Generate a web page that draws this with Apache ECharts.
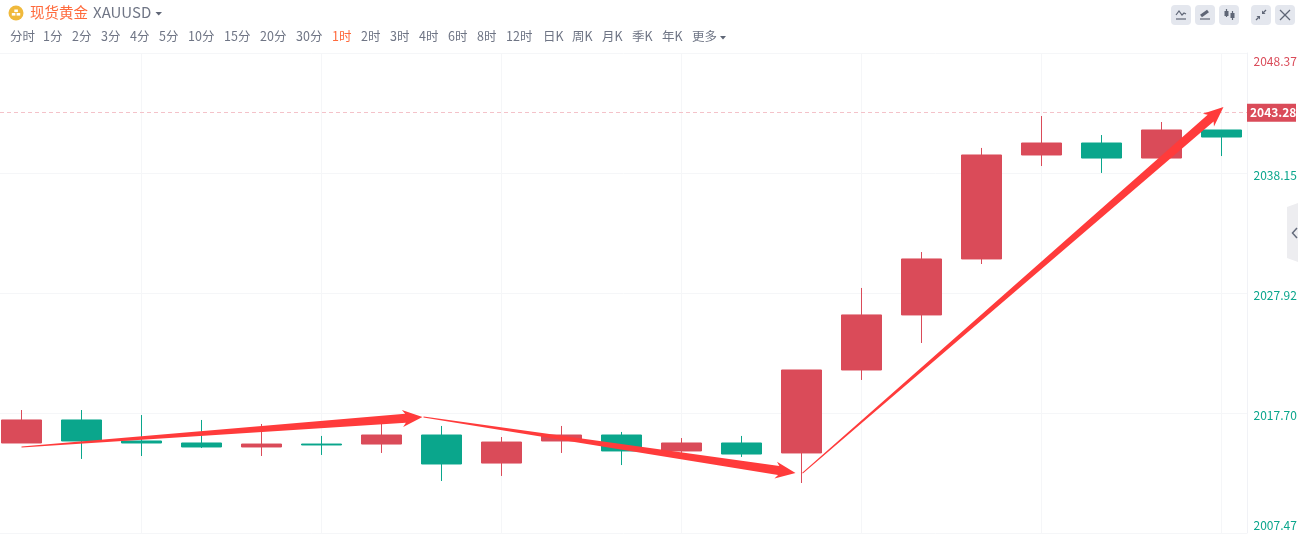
<!DOCTYPE html>
<html>
<head>
<meta charset="utf-8">
<style>html,body{margin:0;padding:0;background:#fff}#c{width:1298px;height:553px}</style>
<script src="https://cdn.jsdelivr.net/npm/echarts@6/dist/echarts.min.js"></script>
</head>
<body>
<div id="c"></div>
<script>
var hours = ['01','02','03','04','05','06','07','08','09','10','11','12','13','14','15','16','17','18','19','20','21'];
var opens  = [2015.14,2017.10,2015.31,2015.14,2014.80,2015.05,2015.05,2015.82,2013.43,2015.31,2015.82,2014.46,2015.14,2014.29,2021.36,2026.05,2030.82,2039.68,2040.70,2039.42,2041.81];
var closes = [2017.10,2015.31,2015.14,2014.80,2015.05,2014.97,2015.82,2013.35,2015.22,2015.82,2014.46,2015.14,2014.20,2021.36,2026.05,2030.82,2039.68,2040.70,2039.42,2041.81,2041.21];
var lows   = [2015.14,2013.78,2014.03,2014.71,2014.03,2014.12,2014.29,2011.90,2012.33,2014.29,2013.26,2014.29,2013.95,2011.73,2020.51,2023.66,2030.39,2038.74,2038.15,2039.42,2039.59];
var highs  = [2017.95,2017.95,2017.52,2017.10,2016.76,2015.74,2016.76,2016.59,2015.65,2016.59,2016.08,2015.56,2015.74,2021.36,2028.35,2031.41,2040.28,2043.00,2041.38,2042.49,2041.81];
var yTicks = [2007.47,2017.70,2027.92,2038.15,2048.37];
var currentPrice = 2043.28;
var arrowTrend1 = [0, 2014.80, 6.683, 2017.35];
var arrowTrend2 = [6.70, 2017.35, 12.90, 2012.58];
var arrowTrend3 = [13.017, 2012.58, 20.033, 2043.77];
var tabLabels = ['分时','1分','2分','3分','4分','5分','10分','15分','20分','30分','1时','2时','3时','4时','6时','8时','12时','日K','周K','月K','季K','年K','更多'];
var activeTab = '1时';
var titleName = '现货黄金';
var titleCode = 'XAUUSD';

var tabX = [10,43,72,101,130,159,188,224,260,296,332,361,390,419,448,477,506,543,572,602,632,662,692];
var RED = '#da4b59', GREEN = '#0aa68c', FONT = '"Noto Sans CJK SC","Noto Sans",sans-serif';
var TOP = 53, H = 480, LINE = '#f5f6f8', ICON = '#5f6676';

var candles = hours.map(function (h, i) { return [opens[i], closes[i], lows[i], highs[i]]; });

function renderArrow(params, api) {
  var a = api.coord([api.value(0), api.value(1)]);
  var b = api.coord([api.value(2), api.value(3)]);
  var dx = b[0] - a[0], dy = b[1] - a[1], len = Math.sqrt(dx * dx + dy * dy);
  var ux = dx / len, uy = dy / len, nx = -uy, ny = ux;
  var headLen = 17, headHalf = 8.5, shaftHalf = 4.5, tailHalf = 0.5, sweep = 3;
  function p(along, off) { return [a[0] + ux * along + nx * off, a[1] + uy * along + ny * off]; }
  return {
    type: 'polygon',
    shape: { points: [
      p(0, -tailHalf), p(len - headLen, -shaftHalf), p(len - headLen - sweep, -headHalf),
      p(len, 0),
      p(len - headLen - sweep, headHalf), p(len - headLen, shaftHalf), p(0, tailHalf)
    ] },
    style: { fill: '#ff3b3b' }
  };
}

var graphics = [];
function text(x, y, s, size, color) {
  graphics.push({ type: 'text', left: x, top: y - size * 0.5, z: 50, silent: true,
    style: { text: s, fontSize: size, fontFamily: FONT, fill: color } });
}
function shape(type, sh, style) {
  graphics.push({ type: type, shape: sh, style: style, z: 50, silent: true });
}
function ln(x1, y1, x2, y2, w) {
  shape('line', { x1: x1, y1: y1, x2: x2, y2: y2 }, { stroke: ICON, lineWidth: w || 1.2 });
}
tabLabels.forEach(function (t, i) { text(tabX[i], 36, t, 12.5, t === activeTab ? '#ff6a3c' : '#6f7585'); });
shape('polygon', { points: [[720, 36], [726, 36], [723, 39.5]] }, { fill: '#5f6676' });
// coin icon
shape('circle', { cx: 16, cy: 13, r: 7.5 }, { fill: '#f0b93c' });
shape('rect', { x: 14.3, y: 9.5, width: 3.6, height: 2.6 }, { fill: '#fff' });
shape('rect', { x: 11.8, y: 13, width: 3.6, height: 2.6 }, { fill: '#fff' });
shape('rect', { x: 16.6, y: 13, width: 3.6, height: 2.6 }, { fill: '#fff' });
text(30, 12, titleName, 14.5, '#ff6a3c');
text(93, 12, titleCode, 15, '#6f7585');
shape('polygon', { points: [[155.5, 12], [162, 12], [158.7, 15.5]] }, { fill: '#5f6676' });
// toolbar buttons
[1171, 1195, 1219, 1251, 1275].forEach(function (x) {
  shape('rect', { x: x, y: 5, width: 20, height: 20, r: 4 }, { fill: '#e4e7ee' });
});
shape('polyline', { points: [[1176, 15], [1179, 11], [1182, 15], [1184, 13], [1186, 14]] }, { stroke: ICON, lineWidth: 1.2, fill: 'none' });
ln(1176, 19, 1186, 19);
ln(1201, 16, 1208, 11, 3.2);
ln(1200, 19, 1210, 19);
ln(1226.5, 9, 1226.5, 17); ln(1232.5, 11, 1232.5, 20);
shape('rect', { x: 1224.5, y: 11, width: 4, height: 5 }, { fill: ICON });
shape('rect', { x: 1230.5, y: 13, width: 4, height: 5 }, { fill: ICON });
ln(1256, 20, 1258.5, 17.5); ln(1266, 10, 1263.5, 12.5);
shape('polygon', { points: [[1260, 16], [1256.5, 16], [1260, 19.5]] }, { fill: ICON });
shape('polygon', { points: [[1262, 14], [1265.5, 14], [1262, 10.5]] }, { fill: ICON });
ln(1280, 10, 1290, 20); ln(1290, 10, 1280, 20);
// side drawer handle
shape('polygon', { points: [[1287, 207], [1298, 203], [1298, 262], [1287, 258]] }, { fill: '#ededf0' });
shape('polyline', { points: [[1297, 228], [1292.5, 233], [1297, 238]] }, { stroke: '#646b7b', lineWidth: 1.5, fill: 'none' });

function arrowSeries(name, values) {
  return { name: name, type: 'custom', xAxisIndex: 2, yAxisIndex: 1, z: 20, clip: false,
    renderItem: renderArrow, data: [values], silent: true,
    encode: { x: [0, 2], y: [1, 3] } };
}

var option = {
  animation: false,
  backgroundColor: '#fff',
  grid: [
    { left: 0, width: 1247, top: TOP, height: H, show: false, outerBoundsMode: 'none' },
    { left: -8.5, width: 1260, top: TOP, height: H, show: false, outerBoundsMode: 'none' }
  ],
  xAxis: [
    { gridIndex: 0, type: 'value', min: 0, max: 1, show: false, splitLine: { show: false } },
    { gridIndex: 1, type: 'category', data: hours, boundaryGap: true,
      axisLine: { show: false }, axisTick: { show: false, alignWithLabel: true }, axisLabel: { show: false },
      splitLine: { show: true, alignWithLabel: true, lineStyle: { color: LINE, width: 1 },
        interval: function (i) { return i % 3 === 2; } } },
    { gridIndex: 1, type: 'value', min: -0.5, max: 20.5, show: false, splitLine: { show: false } }
  ],
  yAxis: [
    { gridIndex: 0, type: 'value', position: 'right', min: 2007.47, max: 2048.37,
      axisLine: { show: true, onZero: false, lineStyle: { color: '#f1f2f6' } },
      axisTick: { show: false, customValues: yTicks },
      splitLine: { show: true, lineStyle: { color: LINE, width: 1 } },
      axisLabel: { show: true, margin: 6.5, customValues: yTicks, fontFamily: FONT, fontSize: 12,
        formatter: function (v) {
          var s = v.toFixed(2);
          if (v > 2048) return '{up|' + s + '}';
          if (v < 2008) return '{low|' + s + '}';
          return '{mid|' + s + '}';
        },
        rich: {
          up: { color: RED, fontSize: 12, fontFamily: FONT, padding: [16, 0, 0, 0] },
          mid: { color: GREEN, fontSize: 12, fontFamily: FONT, padding: [5, 0, 0, 0] },
          low: { color: GREEN, fontSize: 12, fontFamily: FONT, padding: [0, 0, 16, 0] }
        } } },
    { gridIndex: 1, type: 'value', min: 2007.47, max: 2048.37, show: false, splitLine: { show: false } }
  ],
  series: [
    { name: 'price', type: 'line', xAxisIndex: 0, yAxisIndex: 0, symbol: 'none', silent: true,
      lineStyle: { opacity: 0 }, data: [[0, currentPrice], [1, currentPrice]], z: 5,
      markLine: { silent: true, symbol: 'none', animation: false,
        lineStyle: { color: '#f4c2c9', type: [4, 3], width: 1 },
        label: { show: true, position: 'end', distance: 0, formatter: currentPrice.toFixed(2),
          color: '#fff', backgroundColor: RED, fontWeight: 'bold', fontSize: 12, fontFamily: FONT,
          padding: [3, 1, 3, 3], width: 45, align: 'left' },
        data: [{ yAxis: currentPrice }] } },
    { name: 'XAUUSD', type: 'candlestick', xAxisIndex: 1, yAxisIndex: 1, barWidth: 41, z: 10,
      itemStyle: { color: RED, color0: GREEN, borderColor: RED, borderColor0: GREEN, borderWidth: 1 },
      data: candles },
    arrowSeries('trend1', arrowTrend1),
    arrowSeries('trend2', arrowTrend2),
    arrowSeries('trend3', arrowTrend3)
  ],
  graphic: graphics
};
var chart = echarts.init(document.getElementById('c'), null, { renderer: 'canvas' });
chart.setOption(option);
</script>
</body>
</html>
